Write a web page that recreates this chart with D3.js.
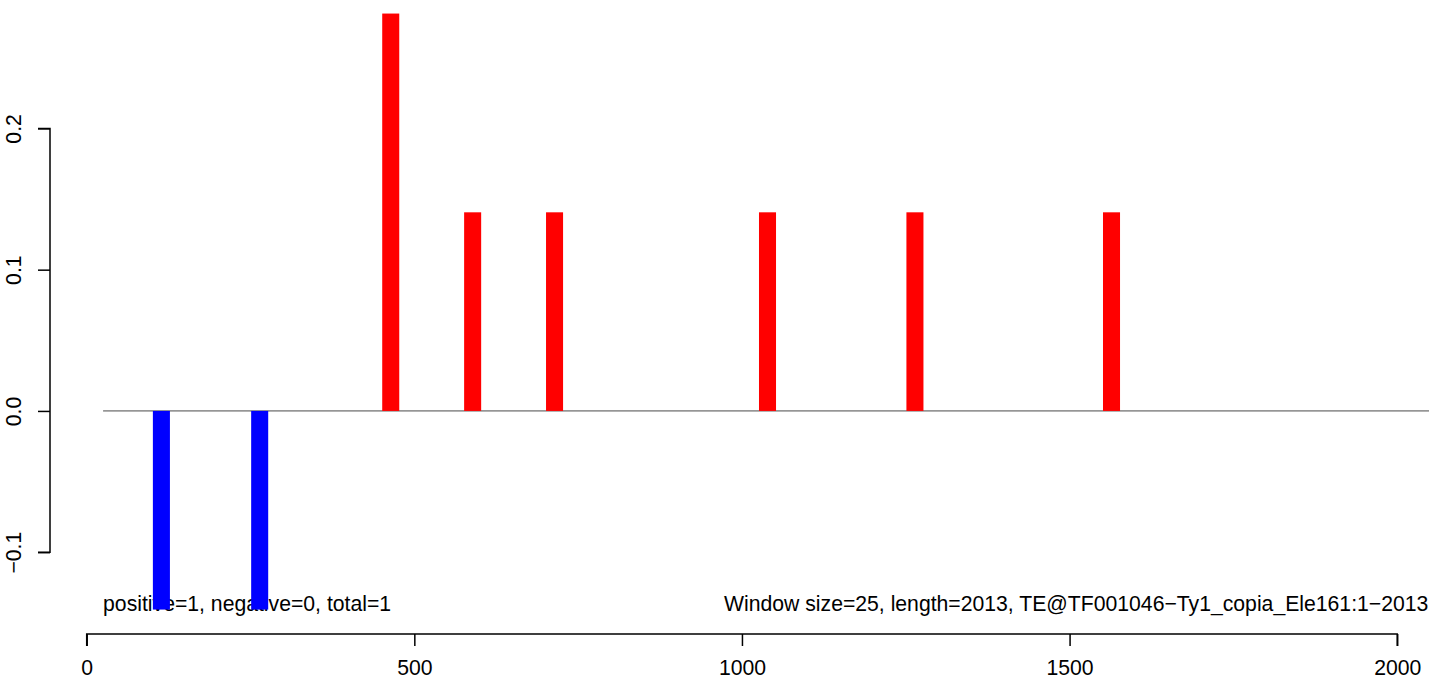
<!DOCTYPE html>
<html>
<head>
<meta charset="utf-8">
<script src="https://cdn.jsdelivr.net/npm/d3@7"></script>
<style>
  body { margin: 0; background: #fff; }
  svg { display: block; font-family: "Liberation Sans", Arial, sans-serif; }
</style>
</head>
<body>
<svg id="chart" width="1429" height="682"></svg>
<script>
// ---- data ----
const windowSize = 25;
const seqLength = 2013;
const posStarts = [450, 575, 700, 1025, 1250, 1550];
const posValues = [0.2813, 0.1406, 0.1406, 0.1406, 0.1406, 0.1406];
const negStarts = [100, 250];
const negValues = [-0.1406, -0.1406];
const xTicks = [0, 500, 1000, 1500, 2000];
const yTicks = [-0.1, 0.0, 0.1, 0.2];
const yTickLabels = ["\u22120.1", "0.0", "0.1", "0.2"];
const leftNote = "positive=1, negative=0, total=1";
const rightNote = "Window size=25, length=2013, TE@TF001046\u2212Ty1_copia_Ele161:1\u22122013";

// ---- layout ----
const svg = d3.select("#chart");
const x = d3.scaleLinear().domain([0, 2000]).range([86.7, 1397.2]);
const y = d3.scaleLinear().domain([-0.1, 0.2]).range([552.2, 128.4]);
const fs = 21.2;

// notes (drawn first so bars overlap them, as in the original)
svg.append("text").attr("x", x(windowSize)).attr("y", 611)
  .attr("font-size", fs).attr("fill", "#000").text(leftNote);
svg.append("text").attr("x", 724).attr("y", 611)
  .attr("font-size", fs).attr("fill", "#000").text(rightNote);

// zero line
svg.append("line")
  .attr("x1", x(windowSize)).attr("x2", 1429)
  .attr("y1", y(0)).attr("y2", y(0))
  .attr("stroke", "#4a4a4a").attr("stroke-width", 1);

// bars
const bw = x(windowSize + 1) - x(0);
svg.selectAll("rect.pos").data(posStarts.map((s, i) => ({s, v: posValues[i]})))
  .enter().append("rect").attr("class", "pos")
  .attr("x", d => x(d.s + windowSize / 2 + 1.5) - bw / 2)
  .attr("width", bw)
  .attr("y", d => y(d.v))
  .attr("height", d => y(0) - y(d.v))
  .attr("fill", "#ff0000");

svg.selectAll("rect.neg").data(negStarts.map((s, i) => ({s, v: negValues[i]})))
  .enter().append("rect").attr("class", "neg")
  .attr("x", d => x(d.s + windowSize / 2 + 1.5) - bw / 2)
  .attr("width", bw)
  .attr("y", y(0))
  .attr("height", d => y(d.v) - y(0))
  .attr("fill", "#0000ff");

// x axis
const xAxis = d3.axisBottom(x).tickValues(xTicks).tickFormat(d3.format("d"))
  .tickSize(12).tickPadding(14);
const gx = svg.append("g").attr("transform", "translate(0,634)").call(xAxis);
gx.select(".domain").attr("d", `M${x(0)},12V0H${x(2000)}V12`).attr("stroke", "#000").attr("stroke-width", 1.5);
gx.selectAll(".tick line").attr("stroke", "#000").attr("stroke-width", 1.5);
gx.selectAll(".tick text").attr("font-size", fs).attr("fill", "#000")
  .attr("font-family", "Liberation Sans, Arial, sans-serif");

// y axis
const yAxis = d3.axisLeft(y).tickValues(yTicks)
  .tickFormat((d, i) => yTickLabels[i]).tickSize(12).tickPadding(0);
const gy = svg.append("g").attr("transform", "translate(50,0)").call(yAxis);
gy.select(".domain").attr("d", `M-12,${y(-0.1)}H0V${y(0.2)}H-12`).attr("stroke", "#000").attr("stroke-width", 1.5);
gy.selectAll(".tick line").attr("stroke", "#000").attr("stroke-width", 1.5);
gy.selectAll(".tick text")
  .attr("font-size", fs).attr("fill", "#000")
  .attr("font-family", "Liberation Sans, Arial, sans-serif")
  .attr("x", null).attr("dy", null)
  .attr("text-anchor", "middle")
  .attr("transform", "translate(-29,0) rotate(-90)")
  .attr("y", 0);
</script>
</body>
</html>
